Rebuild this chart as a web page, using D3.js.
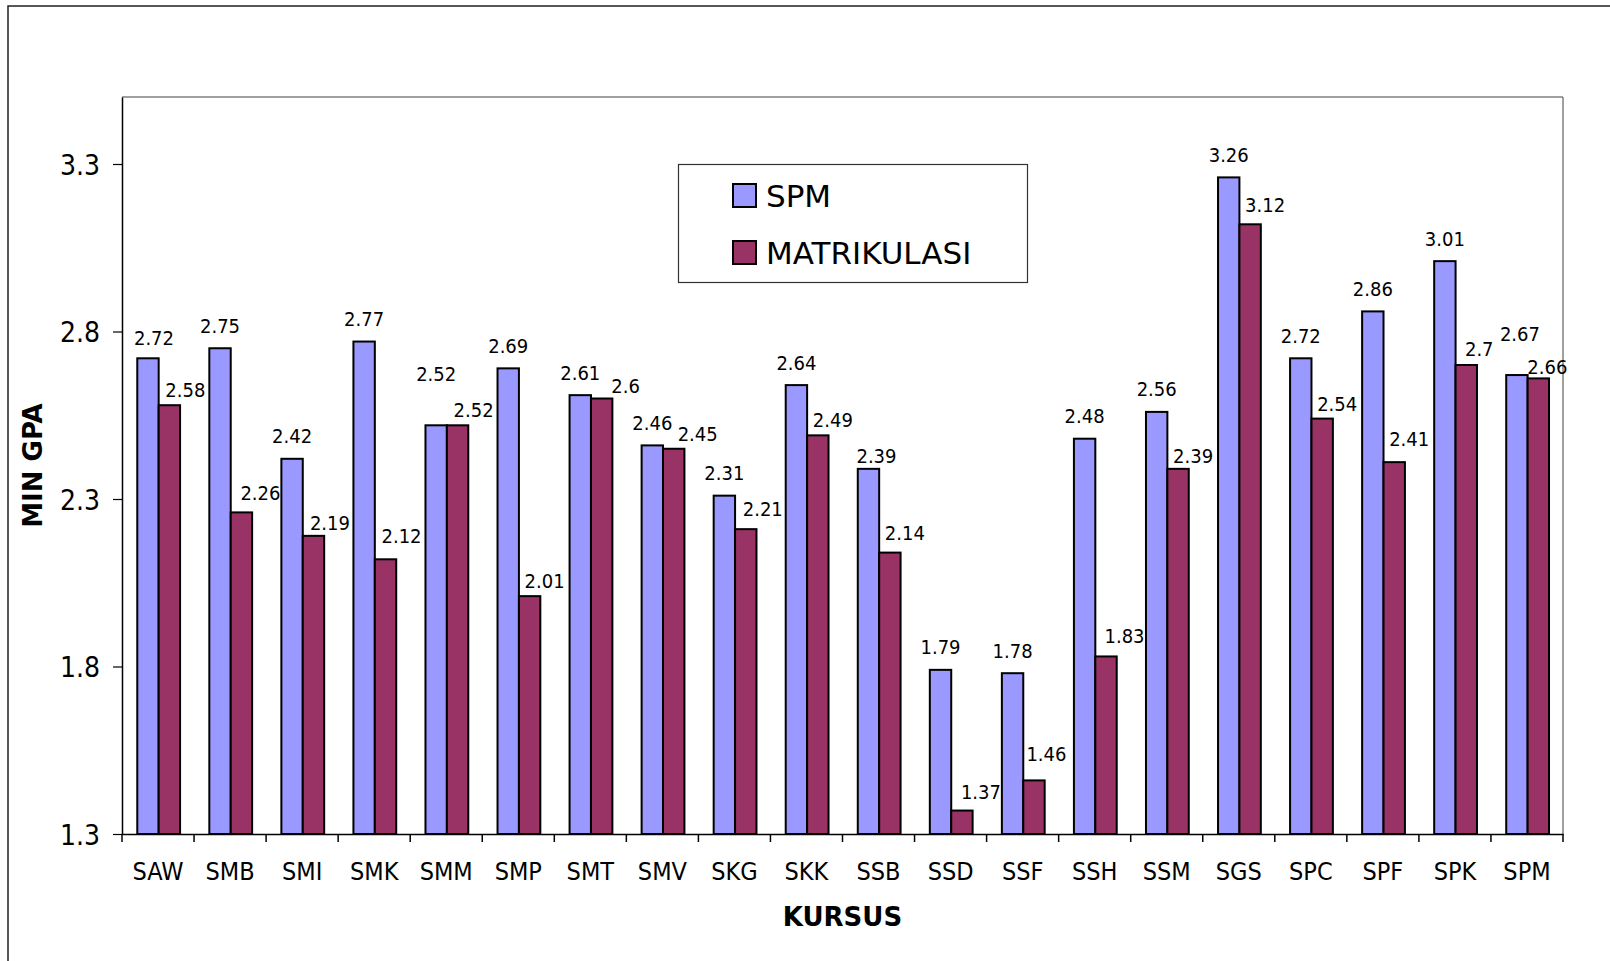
<!DOCTYPE html>
<html>
<head>
<meta charset="utf-8">
<script src="https://cdn.jsdelivr.net/npm/d3@7"></script>
<style>
  html, body { margin: 0; padding: 0; background: #fff; }
  svg { display: block; }
  text { font-family: "DejaVu Sans Condensed", "DejaVu Sans", sans-serif; fill: #000; }
  text.wide { font-family: "DejaVu Sans", sans-serif; }
</style>
</head>
<body>
<svg id="chart" width="1610" height="961"></svg>
<script>
const categories = ["SAW","SMB","SMI","SMK","SMM","SMP","SMT","SMV","SKG","SKK","SSB","SSD","SSF","SSH","SSM","SGS","SPC","SPF","SPK","SPM"];
const seriesNames = ["SPM","MATRIKULASI"];
const spmValues = [2.72,2.75,2.42,2.77,2.52,2.69,2.61,2.46,2.31,2.64,2.39,1.79,1.78,2.48,2.56,3.26,2.72,2.86,3.01,2.67];
const matValues = [2.58,2.26,2.19,2.12,2.52,2.01,2.6,2.45,2.21,2.49,2.14,1.37,1.46,1.83,2.39,3.12,2.54,2.41,2.7,2.66];
const yTicks = [1.3,1.8,2.3,2.8,3.3];
const yDomain = [1.3,3.5];
const xTitle = "KURSUS";
const yTitle = "MIN GPA";

const colors = {"SPM":"#9999FF","MATRIKULASI":"#993366"};

const svg = d3.select("#chart");
const plot = {left:122, right:1563, top:97, bottom:834};

// outer frame (only top/left visible in reference)
svg.append("rect").attr("x",8).attr("y",6).attr("width",1700).attr("height",1100)
  .attr("fill","none").attr("stroke","#222").attr("stroke-width",1.5);

const x0 = d3.scaleBand().domain(categories).range([plot.left, plot.right]).padding(0);
const x1 = d3.scaleBand().domain(seriesNames).range([x0.bandwidth()*0.212, x0.bandwidth()*0.806]).padding(0);
const y = d3.scaleLinear().domain(yDomain).range([plot.bottom, plot.top]);

// plot frame: top & right gray
svg.append("line").attr("x1",plot.left).attr("x2",plot.right).attr("y1",plot.top).attr("y2",plot.top)
  .attr("stroke","#808080").attr("stroke-width",1.5);
svg.append("line").attr("x1",plot.right).attr("x2",plot.right).attr("y1",plot.top).attr("y2",plot.bottom)
  .attr("stroke","#808080").attr("stroke-width",1.5);

const rows = categories.map((c,i)=>({cat:c, vals:[{s:"SPM",v:spmValues[i]},{s:"MATRIKULASI",v:matValues[i]}]}));

const g = svg.append("g");
const groups = g.selectAll("g.cat").data(rows).join("g")
  .attr("transform", d=>`translate(${x0(d.cat)},0)`);
groups.selectAll("rect").data(d=>d.vals).join("rect")
  .attr("x", d=>x1(d.s))
  .attr("y", d=>y(d.v))
  .attr("width", x1.bandwidth())
  .attr("height", d=>y(yDomain[0]) - y(d.v))
  .attr("fill", d=>colors[d.s])
  .attr("stroke","#000").attr("stroke-width",2);

// data labels: base offset + per-label nudges (labels were hand-placed in the original)
const nudge = {
  "SPM|SAW":[6,2.5], "SPM|SMM":[0,-28.5], "SPM|SSB":[8,10], "SPM|SPM":[3,-18.5],
  "MATRIKULASI|SAW":[1,2], "MATRIKULASI|SMB":[4,-2], "MATRIKULASI|SMI":[1.5,4], "MATRIKULASI|SMK":[1,-6],
  "MATRIKULASI|SMM":[1,2], "MATRIKULASI|SMP":[0,2], "MATRIKULASI|SMT":[9,4], "MATRIKULASI|SMV":[9,2],
  "MATRIKULASI|SKG":[2,-3], "MATRIKULASI|SKK":[0,2], "MATRIKULASI|SSB":[0,-3], "MATRIKULASI|SSD":[4,-2],
  "MATRIKULASI|SSF":[-2.5,-9], "MATRIKULASI|SSH":[3.5,-3], "MATRIKULASI|SSM":[0,4.5], "MATRIKULASI|SGS":[0,-2],
  "MATRIKULASI|SPC":[0,2], "MATRIKULASI|SPF":[0,-6], "MATRIKULASI|SPK":[-2,1], "MATRIKULASI|SPM":[-6,6]
};
groups.selectAll("text.lbl").data(d=>d.vals.map(v=>Object.assign({cat:d.cat},v))).join("text")
  .attr("class","lbl")
  .attr("x", d=>x1(d.s) + x1.bandwidth()/2 + (d.s==="SPM"?0:15) + ((nudge[d.s+"|"+d.cat]||[0,0])[0]))
  .attr("y", d=>y(d.v) - (d.s==="SPM"?15.5:10) + ((nudge[d.s+"|"+d.cat]||[0,0])[1]))
  .attr("text-anchor","middle")
  .attr("font-size",20)
  .text(d=>String(d.v));

// y axis
const yAxis = svg.append("g").attr("transform",`translate(${plot.left},0)`)
  .call(d3.axisLeft(y).tickValues(yTicks).tickFormat(d3.format(".1f")).tickSize(9).tickPadding(13).tickSizeOuter(0));
yAxis.select(".domain").attr("stroke","#000").attr("stroke-width",1.5);
yAxis.selectAll(".tick line").attr("stroke","#000").attr("stroke-width",1.2);
yAxis.selectAll(".tick text").attr("font-size",28).attr("font-family",null).attr("dy","0.36em");

// x axis
const xAxis = svg.append("g").attr("transform",`translate(0,${plot.bottom})`)
  .call(d3.axisBottom(x0).tickSize(0).tickPadding(46).tickSizeOuter(0));
xAxis.select(".domain").attr("stroke","#000").attr("stroke-width",1.5);
xAxis.selectAll(".tick text").attr("font-size",25).attr("font-family",null).attr("dy","0");

// tick marks at category boundaries
const bounds = categories.map(c=>x0(c)).concat([plot.right]);
svg.append("g").selectAll("line").data(bounds).join("line")
  .attr("x1",d=>d).attr("x2",d=>d).attr("y1",plot.bottom).attr("y2",plot.bottom+8)
  .attr("stroke","#000").attr("stroke-width",1.5);

// axis titles
svg.append("text").attr("class","wide").attr("x",(plot.left+plot.right)/2).attr("y",926)
  .attr("text-anchor","middle").attr("font-size",26).attr("font-weight","bold").text(xTitle);
svg.append("text").attr("class","wide").attr("transform",`translate(42,${(plot.top+plot.bottom)/2}) rotate(-90)`)
  .attr("text-anchor","middle").attr("font-size",26).attr("font-weight","bold").text(yTitle);

// legend
const lg = svg.append("g");
lg.append("rect").attr("x",678.5).attr("y",164.5).attr("width",349).attr("height",118)
  .attr("fill","#fff").attr("stroke","#333").attr("stroke-width",1.2);
const items = lg.selectAll("g.item").data(seriesNames).join("g")
  .attr("transform",(d,i)=>`translate(733,${184 + i*57})`);
items.append("rect").attr("width",23).attr("height",23)
  .attr("fill",d=>colors[d]).attr("stroke","#000").attr("stroke-width",2);
items.append("text").attr("class","wide").attr("x",33).attr("y",23).attr("font-size",31).text(d=>d);
</script>
</body>
</html>
